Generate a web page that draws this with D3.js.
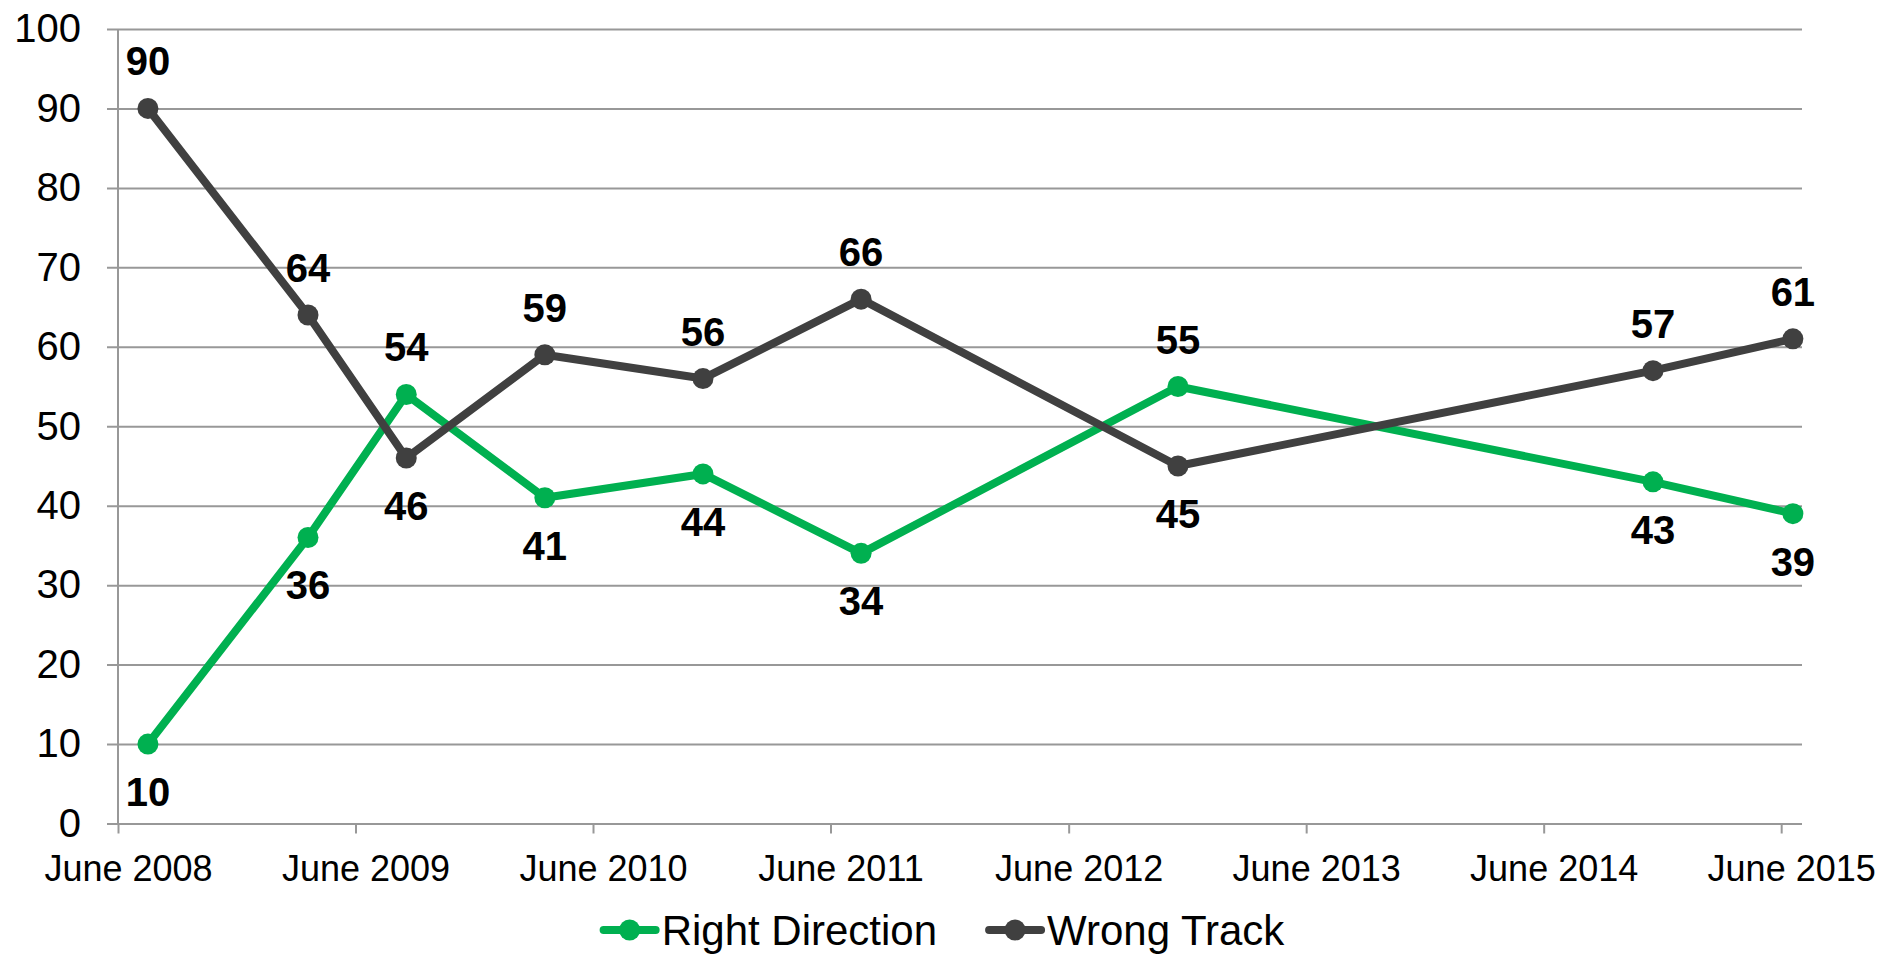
<!DOCTYPE html>
<html>
<head>
<meta charset="utf-8">
<script src="https://cdn.jsdelivr.net/npm/d3@7"></script>
<style>
  body { margin: 0; background: #fff; }
  text { font-family: "Liberation Sans", Arial, sans-serif; }
</style>
</head>
<body>
<svg width="1885" height="956"></svg>
<script>
// poll dates and values
const dates = ["2008-07-17", "2009-03-20", "2009-08-18", "2010-03-19", "2010-11-17", "2011-07-18", "2012-11-16", "2014-11-16", "2015-06-19"]
const rightDirection = [10, 36, 54, 41, 44, 34, 55, 43, 39]
const wrongTrack = [90, 64, 46, 59, 56, 66, 45, 57, 61]

const tickDates = ["2008-06-01", "2009-06-01", "2010-06-01", "2011-06-01", "2012-06-01", "2013-06-01", "2014-06-01", "2015-06-01"]
const tickLabels = ["June 2008", "June 2009", "June 2010", "June 2011", "June 2012", "June 2013", "June 2014", "June 2015"]
const yTicks = [0, 10, 20, 30, 40, 50, 60, 70, 80, 90, 100]
const seriesNames = ["Right Direction", "Wrong Track"]

const colors = ["#00b050", "#404040"]
const parse = d3.timeParse("%Y-%m-%d")

var svg = d3.select("svg")

var x = d3.scaleTime()
  .domain([parse("2008-06-01"), parse("2015-07-03")])
  .range([118, 1802])

var y = d3.scaleLinear()
  .domain([0, 100])
  .range([823.5, 29])

// gridlines + y labels
var yAxis = svg.append("g")
  .attr("transform", "translate(107,0)")
  .call(d3.axisLeft(y).tickValues(yTicks).tickSize(-1695).tickPadding(26))
yAxis.select(".domain").remove()
yAxis.selectAll(".tick line").attr("stroke", "#989898").attr("stroke-width", 2)
yAxis.selectAll(".tick text")
  .attr("font-size", 40)
  .attr("fill", "#000")
  .attr("font-family", "Liberation Sans, Arial, sans-serif")

// x axis ticks and labels
var xAxis = svg.append("g")
  .attr("transform", "translate(0,823.5)")
  .call(d3.axisBottom(x)
    .tickValues(tickDates.map(parse))
    .tickFormat((d, i) => tickLabels[i])
    .tickSize(10).tickPadding(22))
xAxis.select(".domain").remove()
xAxis.selectAll(".tick line").attr("stroke", "#989898").attr("stroke-width", 2)
xAxis.selectAll(".tick text")
  .attr("x", 10)
  .attr("font-size", 36)
  .attr("fill", "#000")
  .attr("font-family", "Liberation Sans, Arial, sans-serif")

// vertical axis line
svg.append("line")
  .attr("x1", 118).attr("x2", 118)
  .attr("y1", y(100)).attr("y2", y(0))
  .attr("stroke", "#989898").attr("stroke-width", 2)

let series = [rightDirection, wrongTrack]

let line = d3.line()
  .x((d, i) => x(parse(dates[i])))
  .y(d => y(d))

series.forEach((s, k) => {
  svg.append("path")
    .attr("d", line(s))
    .attr("fill", "none")
    .attr("stroke", colors[k])
    .attr("stroke-width", 8)
    .attr("stroke-linejoin", "round")

  svg.selectAll(".pt" + k)
    .data(s)
    .enter().append("circle")
    .attr("cx", (d, i) => x(parse(dates[i])))
    .attr("cy", d => y(d))
    .attr("r", 10.5)
    .attr("fill", colors[k])
})

// data labels: larger value above, smaller below
series.forEach((s, k) => {
  let other = series[1 - k]
  svg.selectAll(".lbl" + k)
    .data(s)
    .enter().append("text")
    .attr("x", (d, i) => x(parse(dates[i])))
    .attr("y", (d, i) => d >= other[i] ? y(d) - 33 : y(d) + 62)
    .attr("text-anchor", "middle")
    .attr("font-size", 40)
    .attr("font-weight", "bold")
    .attr("fill", "#000")
    .text(d => d)
})

// legend
var legend = svg.append("g")
let lx = 0
seriesNames.forEach((name, k) => {
  let g = legend.append("g").attr("transform", "translate(" + lx + ",0)")
  g.append("line")
    .attr("x1", 4).attr("x2", 56)
    .attr("y1", 0).attr("y2", 0)
    .attr("stroke", colors[k]).attr("stroke-width", 8)
    .attr("stroke-linecap", "round")
  g.append("circle").attr("cx", 30).attr("cy", 0).attr("r", 10.5).attr("fill", colors[k])
  let t = g.append("text")
    .attr("x", 62).attr("y", 15)
    .attr("font-size", 42)
    .attr("fill", "#000")
    .text(name)
  lx += 62 + t.node().getComputedTextLength() + 48
})
let lw = lx - 48
legend.attr("transform", "translate(" + (942 - lw / 2) + ",930)")
</script>
</body>
</html>
